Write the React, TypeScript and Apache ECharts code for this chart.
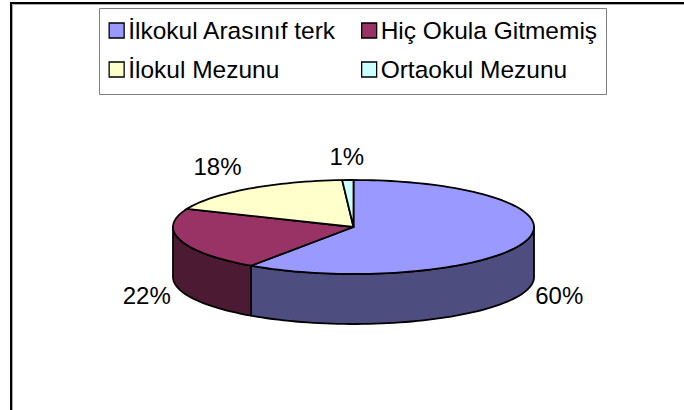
import React, { useEffect, useRef } from "react";
import * as echarts from "echarts";

const categories = ["İlkokul Arasınıf terk", "Hiç Okula Gitmemiş", "İlokul Mezunu", "Ortaokul Mezunu"];
const shares = [59.6, 21.7, 17.7, 1.0];
const topColors = ["#9999FF", "#993366", "#FFFFCC", "#CCFFFF"];
const sideColors = ["#4D4D80", "#4D1A33", "#80805F", "#668080"];

const CX = 353.5, CY = 227, RX = 180.5, RY = 47, DEPTH = 50;
const FONT = '24px "Liberation Sans", Arial, sans-serif';
const labelNudge = [[0, 0], [0, 1], [-11, 0], [0, 3]];

const total = shares.reduce((a, b) => a + b, 0);
const startAngles = shares.map((_, i) => shares.slice(0, i).reduce((a, b) => a + b, 0) / total * 360);
const pt = (deg: number, dy = 0) => {
  const r = (deg * Math.PI) / 180;
  return [CX + RX * Math.sin(r), CY - RY * Math.cos(r) + dy];
};
const arc = (a: number, b: number, dy = 0) => {
  const out: number[][] = [];
  const n = Math.max(2, Math.ceil((b - a) / 2));
  for (let i = 0; i <= n; i++) out.push(pt(a + ((b - a) * i) / n, dy));
  return out;
};

const renderSlice = (params: any, api: any) => {
  const i = params.seriesIndex;
  const a = startAngles[i];
  const b = a + (api.value(0) / total) * 360;
  const children: any[] = [];
  const sa = Math.max(a, 90), sb = Math.min(b, 270);
  const stroke = { stroke: "#000", lineWidth: 1.8, lineJoin: "round" };
  if (sb > sa) {
    children.push({
      type: "polygon",
      shape: { points: [...arc(sa, sb), ...arc(sa, sb, DEPTH).reverse()] },
      style: { fill: sideColors[i], ...stroke },
    });
  }
  children.push({
    type: "polygon",
    shape: { points: [[CX, CY], ...arc(a, b)] },
    style: { fill: topColors[i], ...stroke },
  });
  const mid = (((a + b) / 2) * Math.PI) / 180;
  const c = Math.cos(mid);
  const lx = CX + (RX + 35) * Math.sin(mid) + labelNudge[i][0];
  const ly = c > 0 ? CY - 74 * c + labelNudge[i][1] : CY - 62 * c + DEPTH + labelNudge[i][1];
  children.push({
    type: "text",
    x: lx,
    y: ly,
    z2: 100,
    style: {
      text: Math.round((api.value(0) / total) * 100) + "%",
      font: FONT,
      fill: "#000",
      align: "center",
      verticalAlign: "middle",
    },
  });
  return { type: "group", children };
};

const legendBase = {
  orient: "vertical" as const,
  top: 18,
  itemWidth: 15,
  itemHeight: 15,
  itemGap: 14,
  padding: 0,
  selectedMode: false,
  icon: "rect",
  itemStyle: { borderColor: "#000", borderWidth: 1.3 },
  textStyle: { fontFamily: '"Liberation Sans", Arial, sans-serif', fontSize: 24.5, color: "#000", padding: [0, 0, 1, -1] },
};

export default function App() {
  const ref = useRef<HTMLDivElement>(null);
  useEffect(() => {
    document.body.style.margin = "0";
    const chart = echarts.init(ref.current!, undefined, { renderer: "svg" });
    chart.setOption({
      animation: false,
      backgroundColor: "#fff",
      legend: [
        { ...legendBase, left: 108.5, data: [categories[0], categories[2]] },
        { ...legendBase, left: 361, data: [categories[1], categories[3]] },
      ],
      graphic: [
        { type: "polyline", z: -1, shape: { points: [[11, 410], [11, 3], [684, 3]] }, style: { fill: "none", stroke: "#000", lineWidth: 2 } },
        { type: "polyline", z: -1, shape: { points: [[12.5, 410], [12.5, 4.5], [684, 4.5]] }, style: { fill: "none", stroke: "#aaa", lineWidth: 1 } },
        { type: "rect", z: -1, shape: { x: 99.5, y: 8.5, width: 507, height: 86 }, style: { fill: "#fff", stroke: "#808080", lineWidth: 1 } },
      ],
      series: categories.map((name, i) => ({
        type: "custom",
        name,
        coordinateSystem: "none",
        silent: true,
        itemStyle: { color: topColors[i] },
        renderItem: renderSlice,
        data: [[shares[i]]],
      })),
    });
    return () => chart.dispose();
  }, []);
  return <div ref={ref} style={{ width: 684, height: 410 }} />;
}
